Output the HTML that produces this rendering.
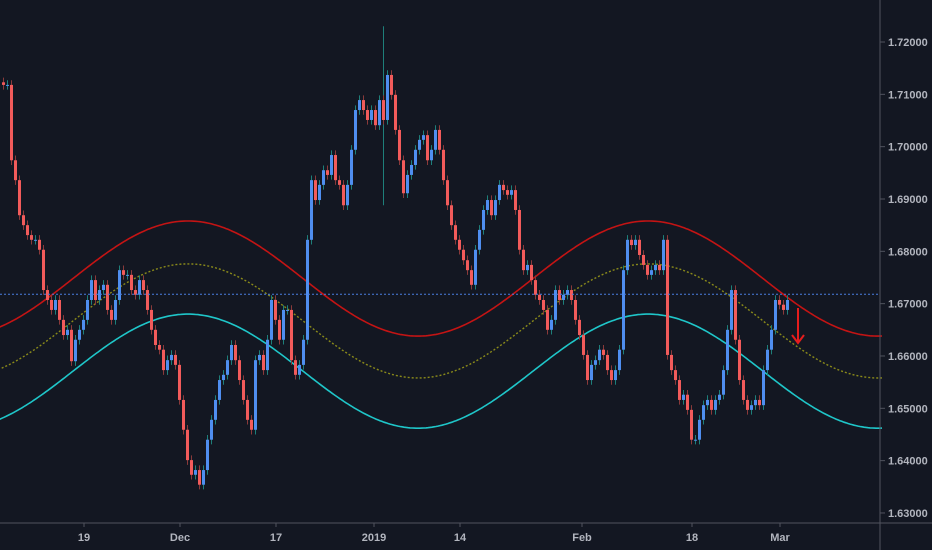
<!DOCTYPE html>
<html><head><meta charset="utf-8"><style>
html,body{margin:0;padding:0;background:#131722;}
svg{display:block;font-family:"Liberation Sans",sans-serif;}
</style></head><body>
<svg id="chart" width="932" height="550" xmlns="http://www.w3.org/2000/svg">
<rect x="0" y="0" width="932" height="550" fill="#131722"/>
<g id="bands"></g>
<g id="candles"></g>
<line x1="0" x2="880" y1="294" y2="294" stroke="#4a7fe0" stroke-width="1" stroke-dasharray="2,2" id="lastline"/>
<g>
<line x1="798" y1="308" x2="798" y2="343" stroke="#e51d1d" stroke-width="2"/>
<polyline points="792,335 798,343 804,335" fill="none" stroke="#e51d1d" stroke-width="2"/>
</g>
<line x1="880" y1="0" x2="880" y2="550" stroke="#50535e" stroke-width="1"/>
<line x1="0" y1="523" x2="932" y2="523" stroke="#50535e" stroke-width="1"/>
<g id="yaxis"></g>
<g id="xaxis"></g>
</svg>
<script>
const closes=[1.7118,1.7118,1.6974,1.6936,1.6869,1.6850,1.6831,1.6822,1.6822,1.6803,1.6726,1.6707,1.6688,1.6707,1.6669,1.6640,1.6650,1.6590,1.6631,1.6650,1.6669,1.6707,1.6745,1.6707,1.6726,1.6736,1.6688,1.6669,1.6707,1.6764,1.6755,1.6755,1.6726,1.6717,1.6745,1.6726,1.6688,1.6650,1.6621,1.6612,1.6573,1.6592,1.6602,1.6583,1.6516,1.6459,1.6401,1.6373,1.6382,1.6354,1.6382,1.6440,1.6478,1.6516,1.6554,1.6564,1.6592,1.6621,1.6592,1.6554,1.6516,1.6478,1.6459,1.6592,1.6602,1.6573,1.6631,1.6707,1.6669,1.6631,1.6688,1.6688,1.6592,1.6564,1.6583,1.6631,1.6822,1.6936,1.6898,1.6927,1.6955,1.6946,1.6984,1.6936,1.6927,1.6888,1.6927,1.6994,1.7070,1.7089,1.7070,1.7051,1.7070,1.7041,1.7089,1.7051,1.7137,1.7099,1.7032,1.6974,
1.6911,1.6946,1.6965,1.6994,1.7013,1.7022,1.6974,1.6994,1.7032,1.6994,1.6936,1.6888,1.6850,1.6822,1.6803,1.6783,1.6764,1.6736,1.6803,1.6841,1.6879,1.6898,1.6869,1.6898,1.6927,1.6917,1.6908,1.6917,1.6879,1.6803,1.6764,1.6774,1.6745,1.6717,1.6707,1.6688,1.6650,1.6669,1.6726,1.6707,1.6717,1.6726,1.6707,1.6669,1.6640,1.6602,1.6554,1.6583,1.6592,1.6612,1.6602,1.6573,1.6554,1.6573,1.6612,1.6764,1.6822,1.6812,1.6822,1.6793,1.6774,1.6755,1.6764,1.6774,1.6764,1.6822,1.6602,1.6573,1.6554,1.6516,1.6526,1.6497,1.6440,1.6440,1.6478,1.6506,1.6516,1.6497,1.6516,1.6526,1.6573,1.6650,1.6726,1.6631,1.6554,1.6516,1.6497,1.6506,1.6516,1.6506,1.6573,1.6612,1.6650,1.6707,1.6698,1.6688,1.6707];
const spikeIdx=[95];
const spikeHigh=[1.7230];
const spikeLow=[1.6888];
const bandCenters=[1.6748,1.6667,1.6571];
const bandAmps=[0.0110,0.0109,0.0109];
const bandPeriod=115;
const bandPeakIndex=46.5;
const lastPrice=1.6718;
const yTicks=[1.72,1.71,1.70,1.69,1.68,1.67,1.66,1.65,1.64,1.63];
const xLabels=["19","Dec","17","2019","14","Feb","18","Mar"];
const xLabelIdx=[20.5,44.5,68.5,93,114.5,145,172.5,194.5];

const NS="http://www.w3.org/2000/svg";
function yS(p){return 42+(1.72-p)*5233;}
function xS(i){return 2+i*4;}
function mk(t,a,parent){const e=document.createElementNS(NS,t);for(const k in a)e.setAttribute(k,a[k]);parent.appendChild(e);return e;}
document.getElementById('lastline').setAttribute('y1',yS(lastPrice));
document.getElementById('lastline').setAttribute('y2',yS(lastPrice));

const bands=document.getElementById('bands');
const bandStyles=[{stroke:"#c41414",dash:"none",w:1.6},{stroke:"#8a8a1a",dash:"2,2",w:1.4},{stroke:"#1fc6c9",dash:"none",w:1.6}];
const bandNames=['upper-band','middle-band','lower-band'];
for(let b=0;b<bandCenters.length;b++){
  let pts=[];
  for(let i=-1;i<=220;i+=0.5){
    const v=bandCenters[b]+bandAmps[b]*Math.cos(2*Math.PI*(i-bandPeakIndex)/bandPeriod);
    pts.push(xS(i).toFixed(1)+","+yS(v).toFixed(1));
  }
  const pl=mk('polyline',{points:pts.join(' '),fill:'none',stroke:bandStyles[b].stroke,'stroke-width':bandStyles[b].w,'stroke-dasharray':bandStyles[b].dash},bands);
  
  
}

const cg=document.getElementById('candles');
for(let s=0;s<spikeIdx.length;s++){
  const x=xS(spikeIdx[s]);
  const sp=mk('line',{x1:x+1.5,x2:x+1.5,y1:yS(spikeHigh[s]),y2:yS(spikeLow[s]),stroke:'#1e7f7a','stroke-width':1},cg);
  
  
}
for(let i=0;i<closes.length;i++){
  const o=i>0?closes[i-1]:closes[i]+0.0005;
  const c=closes[i];
  const up=c>=o;
  const hi=Math.max(o,c)+0.0009, lo=Math.min(o,c)-0.0009;
  const x=xS(i);
  const w=mk('line',{x1:x+1.5,x2:x+1.5,y1:yS(hi),y2:yS(lo),stroke:up?'#1e7f7a':'#8a3a3a','stroke-width':1},cg);
  
  
  const top=yS(Math.max(o,c)), bot=yS(Math.min(o,c));
  const r=mk('rect',{x:x,y:top,width:3,height:Math.max(1,bot-top),fill:up?'#4f8ef0':'#f25b5b'},cg);
  
  
}

const ya=document.getElementById('yaxis');
for(const t of yTicks){
  const y=yS(t);
  const tk=mk('line',{x1:880,x2:885,y1:y,y2:y,stroke:'#50535e'},ya);
  
  
  const tx=mk('text',{x:888,y:y+4,fill:'#b2b5be','font-size':11,'font-weight':'bold'},ya);
  tx.textContent=t.toFixed(5);
  
  
}
const xa=document.getElementById('xaxis');
for(let k=0;k<xLabels.length;k++){
  const x=xS(xLabelIdx[k]);
  const tk=mk('line',{x1:x,x2:x,y1:523,y2:527,stroke:'#50535e'},xa);
  
  
  const tx=mk('text',{x:x,y:541,fill:'#b2b5be','font-size':11,'font-weight':'bold','text-anchor':'middle'},xa);
  tx.textContent=xLabels[k];
  
  
}
</script>
</body></html>
